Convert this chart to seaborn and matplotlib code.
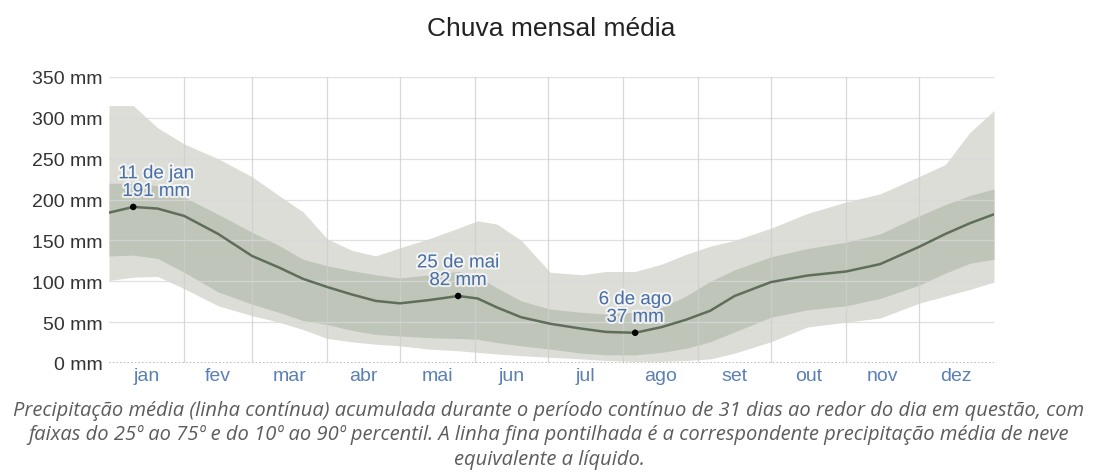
import matplotlib
matplotlib.use("Agg")
import matplotlib.pyplot as plt
import matplotlib.patheffects as pe
import numpy as np
import pandas as pd
import seaborn as sns

# Day of year (0 = 1 Jan, 365 = 31 Dec end)
days = [0, 10, 20, 31, 45, 59, 70, 80, 90, 100, 110, 120, 132, 144, 152, 160, 170,
        182, 195, 205, 217, 228, 238, 248, 258, 273, 288, 304, 318, 334, 345, 355, 365]

# 31-day accumulated rainfall (mm)
mean_mm = [184, 191, 189, 180, 158, 131, 117, 103, 93, 84, 76, 73, 77, 82, 79, 68, 56,
           48, 42, 38, 37, 44, 53, 64, 82, 99, 107, 112, 121, 142, 158, 171, 182]
p25_mm = [131, 132, 128, 111, 87, 72, 62, 52, 47, 40, 35, 33, 31, 30, 29, 25, 21,
          17, 12, 10, 10, 13, 18, 26, 38, 56, 65, 70, 79, 95, 110, 122, 127]
p75_mm = [220, 220, 217, 203, 182, 160, 144, 127, 119, 113, 108, 104, 108, 112, 106, 92, 76,
          66, 62, 60, 62, 68, 82, 100, 114, 130, 140, 148, 158, 180, 194, 205, 213]
p10_mm = [101, 105, 106, 91, 70, 58, 50, 41, 30, 26, 23, 21, 17, 15, 13, 11, 9,
          7, 5, 3, 2, 2, 3, 5, 12, 26, 44, 50, 55, 73, 82, 90, 99]
p90_mm = [315, 315, 288, 268, 250, 228, 205, 185, 152, 138, 131, 141, 152, 165, 174, 170, 150,
          111, 108, 112, 112, 121, 133, 143, 150, 165, 183, 197, 207, 228, 243, 282, 309]

# Highlighted points
mark_days = [10, 144, 217]
mark_vals = [191, 82, 37]
mark_dates = ["11 de jan", "25 de mai", "6 de ago"]
# horizontal nudge (points) keeping the first label inside the plot
mark_dx = [16.5, 0, 0]

month_starts = [0, 31, 59, 90, 120, 151, 181, 212, 243, 273, 304, 334, 365]
month_names = ["jan", "fev", "mar", "abr", "mai", "jun", "jul", "ago", "set", "out", "nov", "dez"]
y_ticks = [0, 50, 100, 150, 200, 250, 300, 350]

df = pd.DataFrame({"day": days, "mean": mean_mm, "p10": p10_mm, "p25": p25_mm,
                   "p75": p75_mm, "p90": p90_mm})

sns.set_style("white")
plt.rcParams["font.family"] = ["Liberation Sans", "DejaVu Sans"]

fig = plt.figure(figsize=(10.98, 4.77), dpi=100)
ax = fig.add_axes([109 / 1098, 1 - 364 / 477, (994 - 109) / 1098, (364 - 78) / 477])

ax.fill_between(df["day"], df["p10"], df["p90"], color="#dcddd7", lw=0, zorder=1)
ax.fill_between(df["day"], df["p25"], df["p75"], color="#c0c5ba", lw=0, zorder=2)
sns.lineplot(data=df, x="day", y="mean", ax=ax, color="#5f6e5a", lw=1.8, zorder=4)

# grid drawn over bands, softly
for v in y_ticks[1:]:
    ax.axhline(v, color="#d9d9d9", lw=0.9, alpha=0.8, zorder=3)
for d in month_starts[1:-1]:
    ax.axvline(d, color="#cfcfcf", lw=0.9, alpha=0.8, zorder=3)
ax.axhline(0, color="#b5b5b5", lw=1.2, ls=(0, (1, 1.2)), zorder=3)

sns.scatterplot(x=mark_days, y=mark_vals, ax=ax, color="black", s=22, zorder=6, edgecolor="none")
for d, v, lab, dx in zip(mark_days, mark_vals, mark_dates, mark_dx):
    ax.annotate(f"{lab}\n{v} mm", (d, v), xytext=(dx, 5), textcoords="offset points",
                ha="center", va="bottom", fontsize=13.5, color="#4a70a6", linespacing=1.05,
                zorder=7,
                path_effects=[pe.withStroke(linewidth=3, foreground="white", alpha=0.7)])

ax.set_xlim(0, 365)
ax.set_ylim(0, 350)
ax.set_yticks(y_ticks)
ax.set_yticklabels([f"{v} mm" for v in y_ticks], fontsize=14, color="#333333")
mids = [(month_starts[i] + month_starts[i + 1]) / 2 for i in range(12)]
ax.set_xticks(mids)
ax.set_xticklabels(month_names, fontsize=14, color="#5b80b6")
ax.tick_params(axis="x", length=0, pad=3)
ax.tick_params(axis="y", length=0, pad=4.5)
ax.set_xlabel("")
ax.set_ylabel("")
for s in ax.spines.values():
    s.set_visible(False)

fig.text(551 / 1098, 1 - 29 / 477, "Chuva mensal média", ha="center", va="center",
         fontsize=19, color="#222222")

caption = ["Precipitação média (linha contínua) acumulada durante o período contínuo de 31 dias ao redor do dia em questão, com",
           "faixas do 25º ao 75º e do 10º ao 90º percentil. A linha fina pontilhada é a correspondente precipitação média de neve",
           "equivalente a líquido."]
for i, line in enumerate(caption):
    fig.text(549 / 1098, 1 - (411 + 24.5 * i) / 477, line, ha="center", va="center",
             fontsize=14.5, style="italic", color="#5c5c5c", family=["Open Sans", "DejaVu Sans"])

fig.savefig("out.png", dpi=100, facecolor="white")
